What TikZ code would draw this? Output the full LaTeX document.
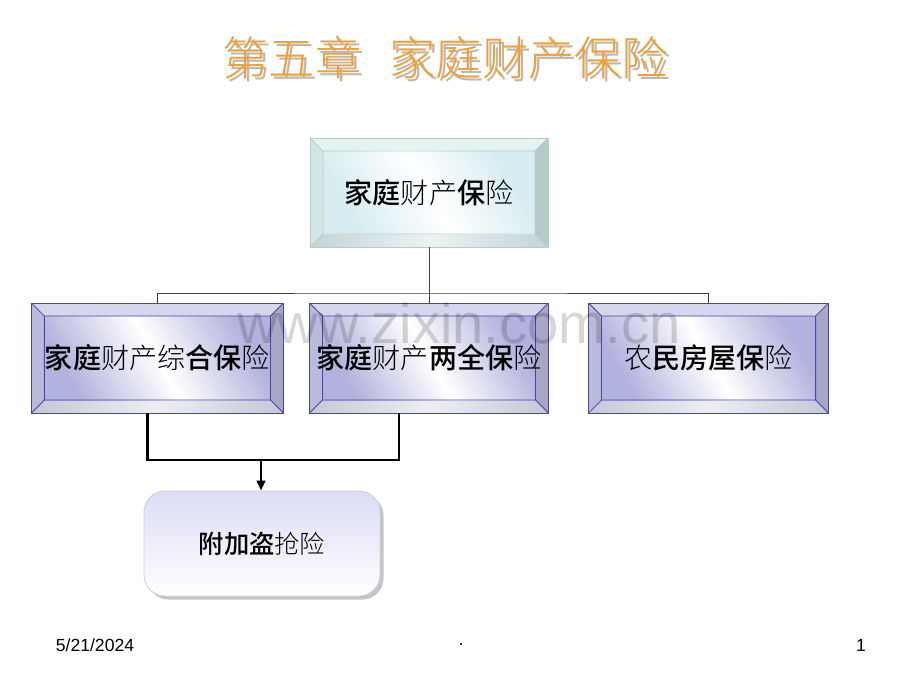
\documentclass[tikz,border=0pt]{standalone}
\usepackage{fontspec}
\setmainfont{Liberation Sans}
\newfontfamily\cjk{Noto Sans CJK SC Light}[BoldFont={Noto Sans CJK SC Medium}]
\usepackage{tikz}
\usetikzlibrary{positioning,calc,arrows.meta,shadows}

\definecolor{titleorange}{HTML}{F5A02E}
\definecolor{titleshadow}{HTML}{B8B8B8}
\definecolor{cyanline}{HTML}{B4CCCC}
\definecolor{cyantop}{HTML}{E6F3F3}
\definecolor{cyanleft}{HTML}{D2E6E6}
\definecolor{cyanbottom}{HTML}{C2D4D4}
\definecolor{cyanright}{HTML}{B6CACA}
\definecolor{cyanface}{HTML}{D6ECF0}
\definecolor{blueline}{HTML}{4646A6}
\definecolor{bluetop}{HTML}{D6D6EE}
\definecolor{blueleft}{HTML}{BABADC}
\definecolor{bluebottom}{HTML}{C6C6D6}
\definecolor{blueright}{HTML}{A8A8C6}
\definecolor{blueface}{HTML}{B2B2DE}
\definecolor{theftline}{HTML}{D0D0D8}
\definecolor{thefttop}{HTML}{DCDCF6}

\tikzset{
  bevelbox/.style n args={6}{draw=#1, line width=0.6pt, inner sep=0pt, outer sep=0pt,
    minimum height=2.75cm, align=center, font=\cjk\fontsize{20pt}{23pt}\selectfont,
    path picture={
      \coordinate (nw) at (path picture bounding box.north west);
      \coordinate (ne) at (path picture bounding box.north east);
      \coordinate (sw) at (path picture bounding box.south west);
      \coordinate (se) at (path picture bounding box.south east);
      \coordinate (inw) at ($(nw)+(13,13)$);
      \coordinate (ine) at ($(ne)+(-13,13)$);
      \coordinate (isw) at ($(sw)+(13,-13)$);
      \coordinate (ise) at ($(se)+(-13,-13)$);
      % bevel sides
      \fill[#2] (nw) -- (ne) -- (ine) -- (inw) -- cycle;
      \fill[#3] (nw) -- (inw) -- (isw) -- (sw) -- cycle;
      \shade[left color=#4, right color=#4, middle color=#4!30!white] (sw) -- (isw) -- (ise) -- (se) -- cycle;
      \fill[#5] (ne) -- (se) -- (ise) -- (ine) -- cycle;
      % face
      \shade[left color=#6, right color=#6, middle color=white, shading angle=120] (inw) rectangle (ise);
      \draw[#1, line width=0.6pt] (nw) -- (inw) (ne) -- (ine) (sw) -- (isw) (se) -- (ise) (inw) rectangle (ise);
    }},
  topbox/.style={bevelbox={cyanline}{cyantop}{cyanleft}{cyanbottom}{cyanright}{cyanface}},
  kindbox/.style={bevelbox={blueline}{bluetop}{blueleft}{bluebottom}{blueright}{blueface}},
  thinline/.style={draw=black!75, line width=0.7pt},
  thickline/.style={draw=black, line width=1.8pt},
  footer/.style={font=\fontsize{12.5pt}{14pt}\selectfont}
}

\begin{document}
\begin{tikzpicture}[x=0.025cm, y=-0.025cm]
  \useasboundingbox[fill=white] (0,0) rectangle (920,690);

  % Title
  \node[text=titleshadow, font=\cjk\fontsize{33pt}{40pt}\selectfont] (titleshade) at (448,61) {第五章\hspace{0.6em}家庭财产保险};
  \node[text=titleorange, font=\cjk\fontsize{33pt}{40pt}\selectfont] (title) at (445,58) {第五章\hspace{0.6em}家庭财产保险};

  % Boxes
  \node[topbox, minimum width=5.95cm, minimum height=2.725cm] (top) at (429,192.5) {{\bfseries 家庭}财产{\bfseries 保}险};
  \node[kindbox, minimum width=5.975cm, below=1.4cm of top] (joint) {{\bfseries 家庭}财产{\bfseries 两全保}险};
  \node[kindbox, minimum width=6.3cm, left=0.65cm of joint] (comp) {{\bfseries 家庭}财产综{\bfseries 合保}险};
  \node[kindbox, minimum width=6cm, right=1cm of joint] (rural) {农{\bfseries 民房屋保}险};
  \node[draw=theftline, line width=0.6pt, rounded corners=15pt, top color=thefttop, bottom color=white,
        drop shadow={shadow xshift=2.5pt, shadow yshift=-2.5pt, opacity=0.45},
        minimum width=5.9cm, minimum height=2.625cm, font=\cjk\fontsize{18pt}{21pt}\selectfont] (theft) at (262,543.5) {{\bfseries 附加盗}抢险};

  % Tree lines
  \coordinate (hub) at (429,293);
  \draw[thinline] (top.south) -- (hub);
  \draw[thinline] (comp.north) |- (hub) -| (rural.north);
  \draw[thinline] (hub) -- (joint.north);

  % Lines to the rider
  \coordinate (join) at (261,460);
  \draw[thickline] ($(comp.south)+(-10,0)$) |- (join);
  \draw[thickline] ($(joint.south)+(-30,0)$) |- (join);
  \draw[thickline, -{Triangle[length=7pt, width=6pt]}] (join) -- (join |- theft.north);

  % Watermark
  \node[anchor=base, text=black, text opacity=0.16, font=\fontsize{40pt}{46pt}\selectfont] (mark) at (459,343) {www.zixin.com.cn};

  % Footer
  \node[footer] (date) at (95,645) {5/21/2024};
  \node[footer] (dot) at (461,645) {.};
  \node[footer] (page) at (861,645) {1};
\end{tikzpicture}
\end{document}
